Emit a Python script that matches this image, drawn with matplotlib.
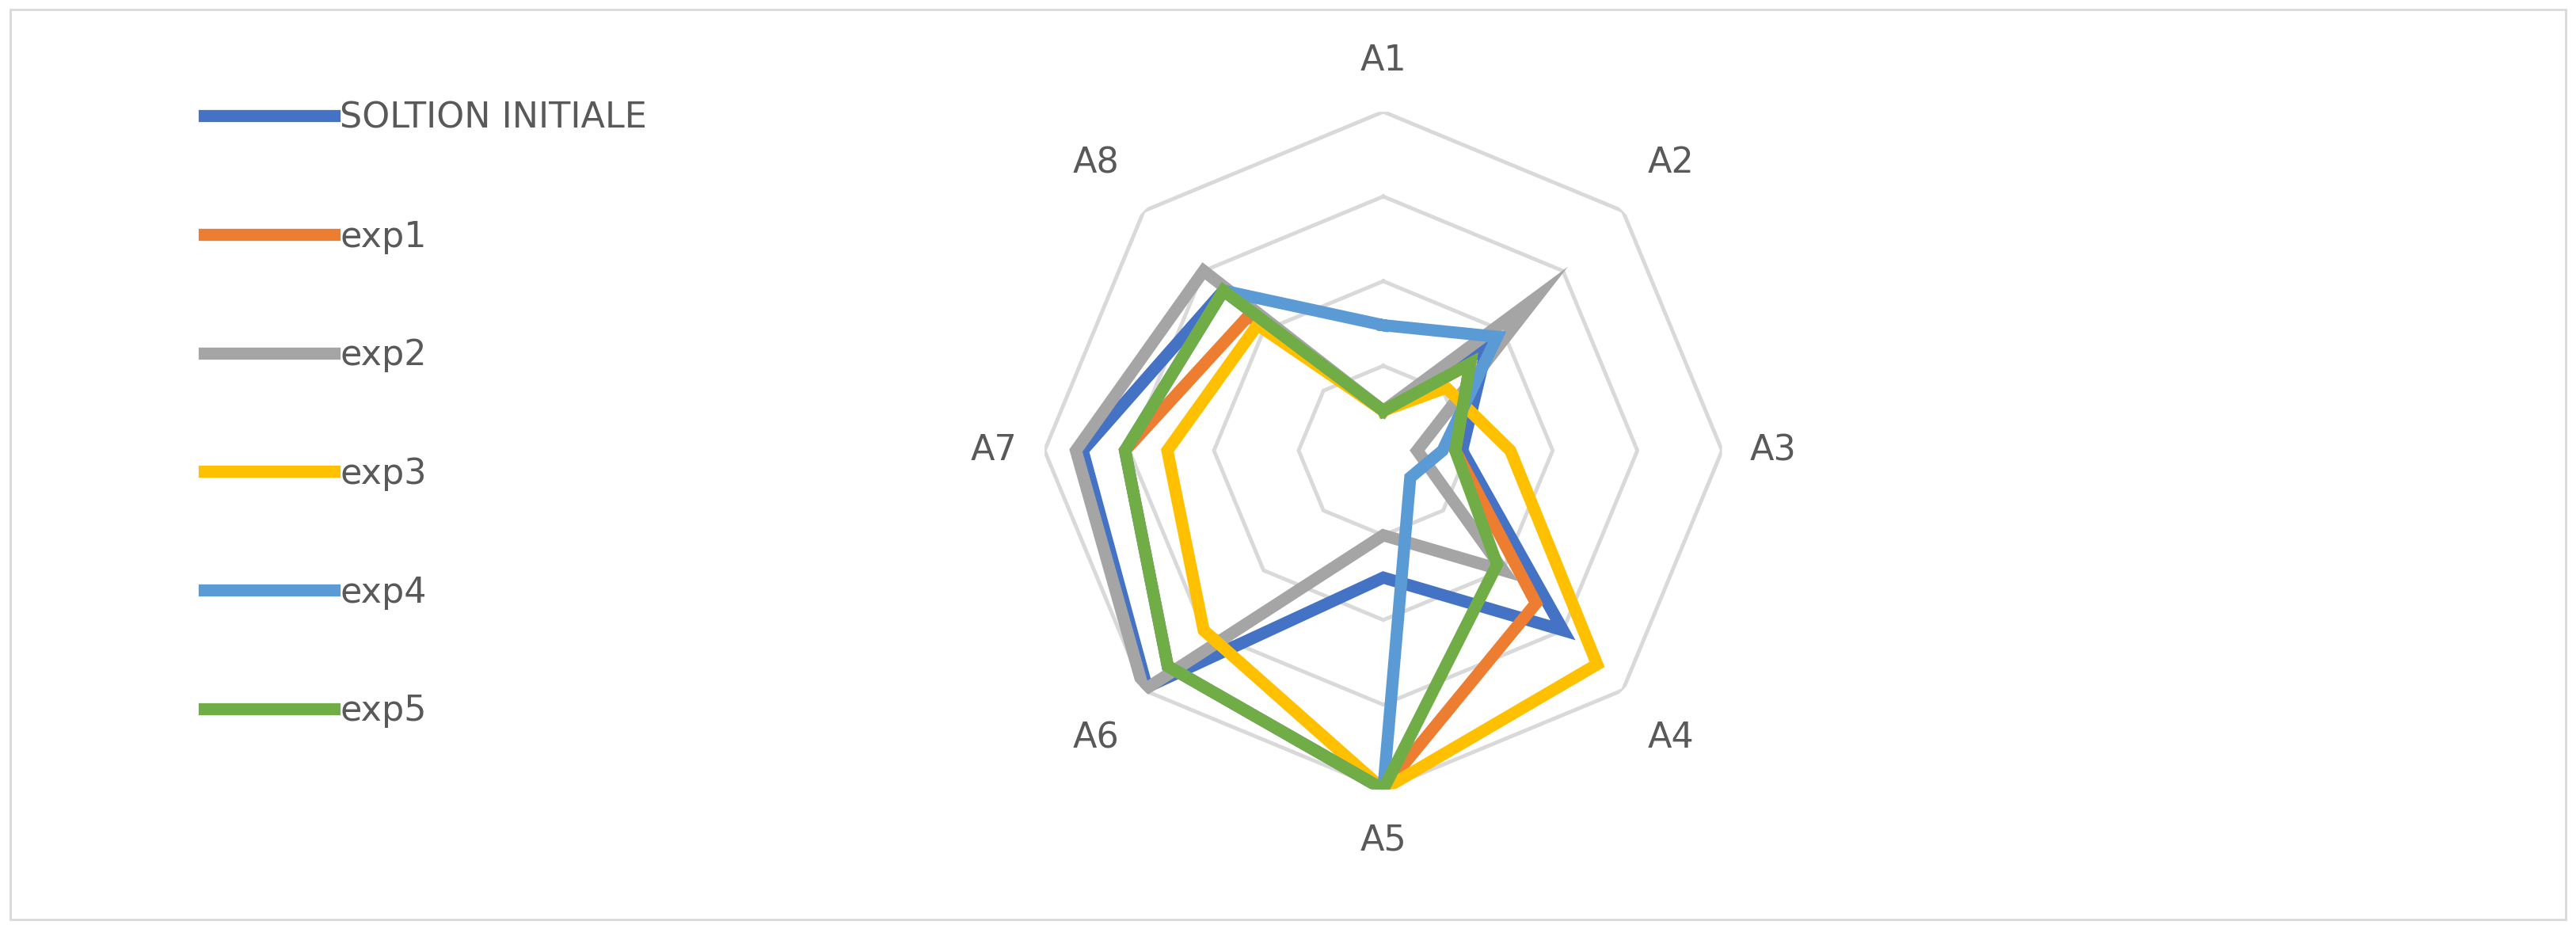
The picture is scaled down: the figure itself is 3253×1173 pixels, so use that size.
import matplotlib
matplotlib.use("Agg")
import matplotlib.pyplot as plt
import numpy as np
from matplotlib.patches import Rectangle

categories = ["A1", "A2", "A3", "A4", "A5", "A6", "A7", "A8"]
series_names = ["SOLTION INITIALE", "exp1", "exp2", "exp3", "exp4", "exp5"]
initiale = [0.47, 1.73, 0.93, 3.0, 1.5, 3.95, 3.55, 2.67]
exp1 = [0.47, 1.45, 0.85, 2.55, 4.0, 3.6, 3.05, 2.25]
exp2 = [0.47, 2.55, 0.4, 2.0, 1.0, 4.0, 3.63, 3.0]
exp3 = [0.47, 1.05, 1.5, 3.57, 4.0, 3.0, 2.55, 2.1]
exp4 = [1.48, 1.9, 0.7, 0.45, 4.0, 3.6, 3.05, 2.67]
exp5 = [0.47, 1.45, 0.85, 1.9, 4.0, 3.6, 3.05, 2.67]
colors = ["#4472C4", "#ED7D31", "#A5A5A5", "#FFC000", "#5B9BD5", "#70AD47"]
all_vals = [initiale, exp1, exp2, exp3, exp4, exp5]

fig = plt.figure(figsize=(32.53, 11.73), dpi=100)
fig.patches.append(Rectangle((0.004, 0.01), 0.992, 0.98, transform=fig.transFigure,
                             fill=False, edgecolor="#D9D9D9", linewidth=2))

ax = fig.add_axes([0.537 - 0.1315, 0.515 - 0.365, 0.263, 0.73], projection="polar")
ax.set_theta_zero_location("N")
ax.set_theta_direction(-1)
angles = np.arange(len(categories)) * 2 * np.pi / len(categories)
rmax = 4

# octagon grid instead of circles
ax.grid(False)
ax.spines["polar"].set_visible(False)
ax.set_yticklabels([])
ax.set_xticks([])
for r in range(1, rmax + 1):
    ax.plot(np.append(angles, angles[0]), [r] * (len(angles) + 1), color="#D9D9D9", lw=3.5, zorder=1)
ax.set_ylim(0, rmax)

for name, vals, c in zip(series_names, all_vals, colors):
    ax.plot(np.append(angles, angles[0]), vals + vals[:1], color=c, lw=11,
            solid_joinstyle="miter", label=name, zorder=3)

for a, lab in zip(angles, categories):
    rr = rmax * (1.15 if a % (np.pi / 2) == 0 else 1.2)
    ax.text(a, rr, lab, ha="center", va="center", fontsize=32, color="#595959")

leg = fig.legend(loc="upper left", bbox_to_anchor=(0.067, 0.925), frameon=False,
                 fontsize=32, handlelength=3.7, labelspacing=2.4, handletextpad=0.15)
for t in leg.get_texts():
    t.set_color("#595959")

fig.savefig("out.png", dpi=100)
